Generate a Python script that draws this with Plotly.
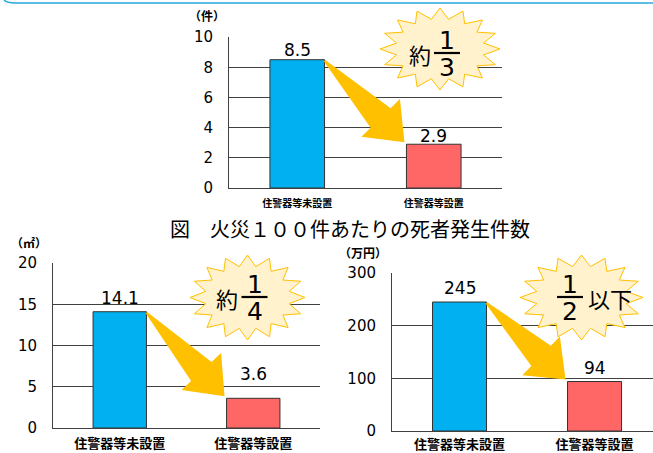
import numpy as np
import plotly.graph_objects as go

W, H = 653, 453

# ---------------- data ----------------
categories = ["住警器等未設置", "住警器等設置"]
deaths_per_100 = [8.5, 2.9]        # 件
burned_area = [14.1, 3.6]          # ㎡
damage_amount = [245, 94]          # 万円
unit_labels = ["（件）", "（㎡）", "（万円）"]
badge_prefix = ["約", "約", ""]
badge_num = ["1", "1", "1"]
badge_den = ["3", "4", "2"]
badge_suffix = ["", "", "以下"]
title_text = "図　火災１００件あたりの死者発生件数"

# ---------------- style ----------------
BLUE = "#00B0F0"
RED = "#FF6666"
GRID = "#404040"
JP = "Noto Sans CJK JP"
NUM = "DejaVu Sans"

panels = [
    dict(px=(229, 502, 37, 188), yr=(0, 10), xr=(-0.5, 1.5), dtick=2, vals=deaths_per_100, catsize=10,
         unit_pos=(207, 16), label_shift=[10, 8], standoff=6),
    dict(px=(53, 320, 263, 428), yr=(0, 20), xr=(-0.5, 1.5), dtick=5, vals=burned_area, catsize=13,
         unit_pos=(29, 243), label_shift=[14, 24], standoff=3),
    dict(px=(392, 653, 273, 431), yr=(0, 300), xr=(-0.5, 1.433), dtick=100, vals=damage_amount, catsize=13,
         unit_pos=(363, 253), label_shift=[14, 14], standoff=1),
]
BAR_W = 0.4


def pxp(x):
    return x / W


def pyp(y):
    return 1 - y / H


def d2p(p, xd, yd):
    x0, x1, yt, yb = p["px"]
    xr0, xr1 = p["xr"]
    yr0, yr1 = p["yr"]
    return (x0 + (xd - xr0) / (xr1 - xr0) * (x1 - x0),
            yb - (yd - yr0) / (yr1 - yr0) * (yb - yt))


def path_from(points):
    return "M " + " L ".join(f"{pxp(x):.5f},{pyp(y):.5f}" for x, y in points) + " Z"


def arrow_path(T, P, tw=1.0, nw=14.0, hw=27.0, hl=34.0):
    T = np.array(T, float)
    P = np.array(P, float)
    u = (P - T) / np.linalg.norm(P - T)
    n = np.array([u[1], -u[0]])
    base = P - u * hl
    pts = [T + n * tw, base + n * nw, base + n * hw, P, base - n * hw, base - n * nw, T - n * tw]
    return path_from(pts)


def star_path(cx, cy, rx, ry, npts=16, inner=0.74, rot=-90):
    pts = []
    for i in range(npts * 2):
        a = np.deg2rad(rot + i * 180.0 / npts)
        r = 1.0 if i % 2 == 0 else inner
        pts.append((cx + rx * r * np.cos(a), cy + ry * r * np.sin(a)))
    return path_from(pts)


def text_at(x, y, text, font, **kw):
    d = dict(x=pxp(x), y=pyp(y), xref="paper", yref="paper", text=text, showarrow=False,
             xanchor="center", yanchor="middle", font=font)
    d.update(kw)
    return d


fig = go.Figure()
layout = dict(
    width=W, height=H, margin=dict(l=0, r=0, t=0, b=0, autoexpand=False),
    paper_bgcolor="white", plot_bgcolor="white", showlegend=False, bargap=0.6,
)
annotations = []
shapes = []

for i, p in enumerate(panels):
    sfx = "" if i == 0 else str(i + 1)
    fig.add_trace(go.Bar(
        x=categories, y=p["vals"], width=BAR_W,
        marker=dict(color=[BLUE, RED], line=dict(color="#333333", width=1)),
        xaxis="x" + sfx, yaxis="y" + sfx, hoverinfo="skip",
    ))
    x0, x1, yt, yb = p["px"]
    layout["xaxis" + sfx] = dict(
        domain=[pxp(x0), pxp(x1)], anchor="y" + sfx, range=list(p["xr"]),
        showline=True, linecolor=GRID, linewidth=1, showgrid=False, ticks="",
        tickfont=dict(family=JP, size=p["catsize"], color="black", weight="bold"),
        ticklabelstandoff=p["standoff"], fixedrange=True,
    )
    layout["yaxis" + sfx] = dict(
        domain=[pyp(yb), pyp(yt)], anchor="x" + sfx, range=[p["yr"][0], p["yr"][1] * 1.0005],
        dtick=p["dtick"], showgrid=True, gridcolor=GRID, gridwidth=1,
        showline=True, linecolor=GRID, linewidth=1, ticks="", zeroline=False,
        tickfont=dict(family=NUM, size=15, color="black"), ticklabelstandoff=12,
        fixedrange=True,
    )
    for j, v in enumerate(p["vals"]):
        annotations.append(dict(
            x=j, y=v, xref="x" + sfx, yref="y" + sfx, text=f"{v}", showarrow=False,
            xanchor="center", yanchor="middle", yshift=p["label_shift"][j],
            font=dict(family=NUM, size=17, color="black"),
        ))
    ux, uy = p["unit_pos"]
    annotations.append(text_at(ux, uy, unit_labels[i], dict(family=JP, size=12, color="black", weight="bold")))
    T = d2p(p, 0 + BAR_W / 2, p["vals"][0])
    P = d2p(p, 1 - BAR_W / 2, p["vals"][1])
    shapes.append(dict(type="path", xref="paper", yref="paper", layer="above",
                       path=arrow_path((T[0], T[1] + 1), (P[0] - 2, P[1] - 2)),
                       fillcolor="#FFC000", line=dict(width=0)))

star_geo = [(440, 49, 60, 41), (247.5, 297.5, 57.5, 42.5), (581.5, 297.5, 61.5, 42.5)]
frac_geo = [  # (fraction center x, line y, prefix x, suffix x)
    (447, 53, 420, None),
    (254.5, 297, 227, None),
    (570, 297, None, 610),
]
for i, (cx, cy, rx, ry) in enumerate(star_geo):
    shapes.append(dict(type="path", xref="paper", yref="paper", layer="above",
                       path=star_path(cx, cy, rx, ry),
                       fillcolor="#FFF2CC", line=dict(color="#FFC000", width=1)))
    fx, ly, prex, sufx = frac_geo[i]
    shapes.append(dict(type="line", xref="paper", yref="paper", layer="above",
                       x0=pxp(fx - 13), x1=pxp(fx + 13), y0=pyp(ly), y1=pyp(ly),
                       line=dict(color="black", width=2.2)))
    annotations.append(text_at(fx, ly - 13, badge_num[i], dict(family=NUM, size=25, color="black"), height=24))
    annotations.append(text_at(fx, ly + 14, badge_den[i], dict(family=NUM, size=25, color="black"), height=24))
    if badge_prefix[i]:
        annotations.append(text_at(prex, ly + 1, badge_prefix[i], dict(family=JP, size=22, color="black")))
    if badge_suffix[i]:
        annotations.append(text_at(sufx, ly + 1, badge_suffix[i], dict(family=JP, size=22, color="black")))

annotations.append(text_at(350, 228, title_text, dict(family=JP, size=20, color="black")))

shapes.append(dict(type="path", xref="paper", yref="paper", layer="above",
                   path=f"M {pxp(4)},{pyp(0)} Q {pxp(7)},{pyp(3)} {pxp(16)},{pyp(3)} L {pxp(653)},{pyp(3)}",
                   line=dict(color="#29A8E0", width=1.5)))

layout["annotations"] = annotations
layout["shapes"] = shapes
fig.update_layout(**layout)
fig.write_html(
    "out.html",
    config={"displayModeBar": False},
    post_script="document.body.style.margin='0';document.body.style.overflow='hidden';",
)
